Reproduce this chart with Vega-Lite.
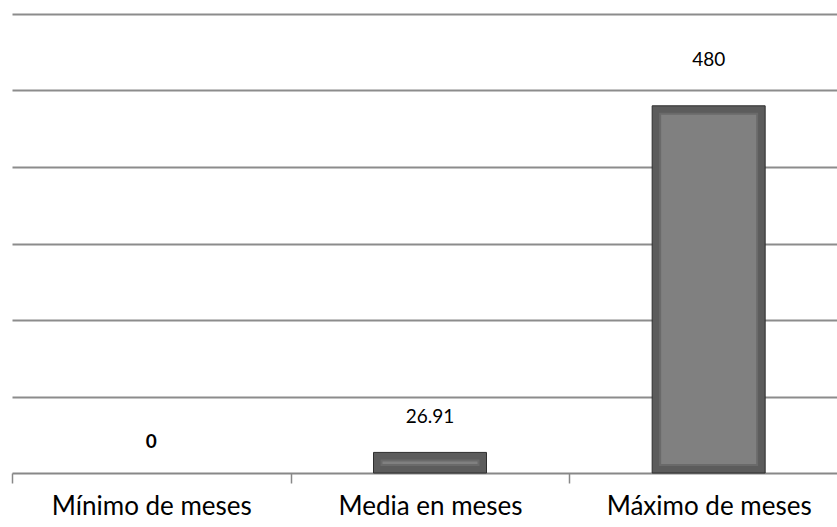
{
  "$schema": "https://vega.github.io/schema/vega-lite/v6.json",
  "autosize": "none",
  "padding": {"left": 12, "top": 14, "right": 0, "bottom": 54},
  "width": 836,
  "height": 459,
  "background": "white",
  "config": {"view": {"stroke": null}, "font": "Lato"},
  "data": {"values": [
    {"cat": "Mínimo  de meses", "value": 0, "label": "0"},
    {"cat": "Media en meses", "value": 26.91, "label": "26.91"},
    {"cat": "Máximo de meses", "value": 480, "label": "480"}
  ]},
  "encoding": {
    "x": {"field": "cat", "type": "nominal", "sort": ["Mínimo  de meses", "Media en meses", "Máximo de meses"],
      "scale": {"paddingInner": 0, "paddingOuter": 0},
      "axis": {"title": null, "labelAngle": 0, "labelFontSize": 26, "labelColor": "#000", "labelFont": "Lato", "labelLimit": 400,
        "tickBand": "extent", "tickSize": 10, "tickColor": "#888", "tickWidth": 1.5,
        "domainColor": "#888", "domainWidth": 2, "labelPadding": 10, "grid": false}},
    "y": {"field": "value", "type": "quantitative",
      "scale": {"domain": [0, 600], "nice": false},
      "axis": {"title": null, "labels": false, "ticks": false, "domain": false, "values": [100, 200, 300, 400, 500, 600],
        "gridColor": "#8c8c8c", "gridWidth": 2, "gridOpacity": 1}}
  },
  "layer": [
    {"transform": [{"filter": "datum.value > 0"}],
      "mark": {"type": "bar", "size": 113, "color": "#5c5c5c", "stroke": "#2e2e2e", "strokeWidth": 1}},
    {"transform": [{"filter": "datum.value > 0"}],
      "mark": {"type": "bar", "size": 97, "color": "#808080", "yOffset": 8, "y2Offset": -8, "stroke": "#6a6a6a", "strokeWidth": 2},
      "encoding": {"y2": {"datum": 0}}},
    {"transform": [{"filter": "datum.value == 0"}],
      "mark": {"type": "text", "fontSize": 19, "fontWeight": "bold", "dy": -31, "color": "#000"},
      "encoding": {"text": {"field": "label"}}},
    {"transform": [{"filter": "datum.value > 0 && datum.value < 100"}],
      "mark": {"type": "text", "fontSize": 19, "dy": -35, "color": "#000"},
      "encoding": {"text": {"field": "label"}}},
    {"transform": [{"filter": "datum.value >= 100"}],
      "mark": {"type": "text", "fontSize": 19, "dy": -46, "color": "#000"},
      "encoding": {"text": {"field": "label"}}}
  ]
}
